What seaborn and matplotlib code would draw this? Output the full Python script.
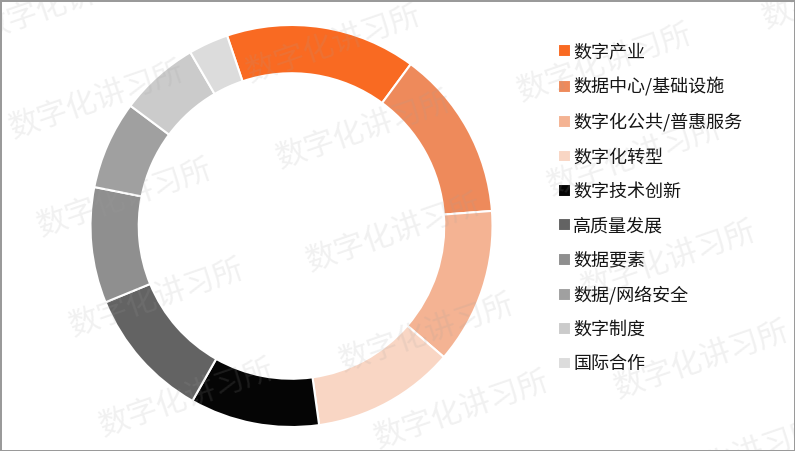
import matplotlib
matplotlib.use("Agg")
import matplotlib.pyplot as plt
import seaborn as sns

# 数据
categories = ["数字产业", "数据中心/基础设施", "数字化公共/普惠服务", "数字化转型", "数字技术创新",
              "高质量发展", "数据要素", "数据/网络安全", "数字制度", "国际合作"]
values = [15.3, 13.7, 12.5, 11.5, 10.4, 10.6, 9.3, 7.1, 6.4, 3.2]
colors = ["#F96A22", "#EE8A5B", "#F4B393", "#F9D6C4", "#050505",
          "#636363", "#8F8F8F", "#A0A0A0", "#CBCBCB", "#DCDCDC"]

# 水印位置（像素，左上为原点）
watermark_text = "数字化讲习所"
watermark_xy = [(67, 2), (97, 100), (125, 198), (157, 298), (187, 398),
                (334, 44), (364, 130), (394, 233), (427, 333), (462, 410),
                (605, 63), (635, 157), (669, 260), (702, 360), (735, 458),
                (850, -10)]

sns.set_theme(style="white")
plt.rcParams['font.family'] = ['Noto Sans CJK SC', 'DejaVu Sans']

W, H = 795, 451
fig = plt.figure(figsize=(W / 100, H / 100), dpi=100)
fig.patch.set_facecolor("white")
fig.patch.set_edgecolor("#9A9A9A")
fig.patch.set_linewidth(2)

# 环形图区域
cx, cy, r = 291.5, 226, 201
ax = fig.add_axes([(cx - r) / W, (H - cy - r) / H, 2 * r / W, 2 * r / H])
palette = sns.color_palette(colors)
wedges, _ = ax.pie(values, colors=palette, startangle=108.7, counterclock=False,
                   radius=1, wedgeprops=dict(width=0.24, edgecolor="white", linewidth=1.5))
ax.set_xlim(-1, 1)
ax.set_ylim(-1, 1)
ax.set_aspect("equal")
ax.axis("off")

leg = fig.legend(wedges, categories, loc="upper left", bbox_to_anchor=(549 / W, 1 - 34 / H),
                 frameon=False, fontsize=13, handlelength=0.7, handleheight=0.7,
                 handletextpad=0.15, labelspacing=0.91, borderpad=0)
for t in leg.get_texts():
    t.set_color("#151515")

# 水印
for x, y in watermark_xy:
    fig.text(x / W, 1 - y / H, watermark_text, fontsize=22, color="#A0A0A0", alpha=0.15,
             rotation=19, ha="center", va="center", zorder=10)

fig.savefig("out.png", dpi=100)
